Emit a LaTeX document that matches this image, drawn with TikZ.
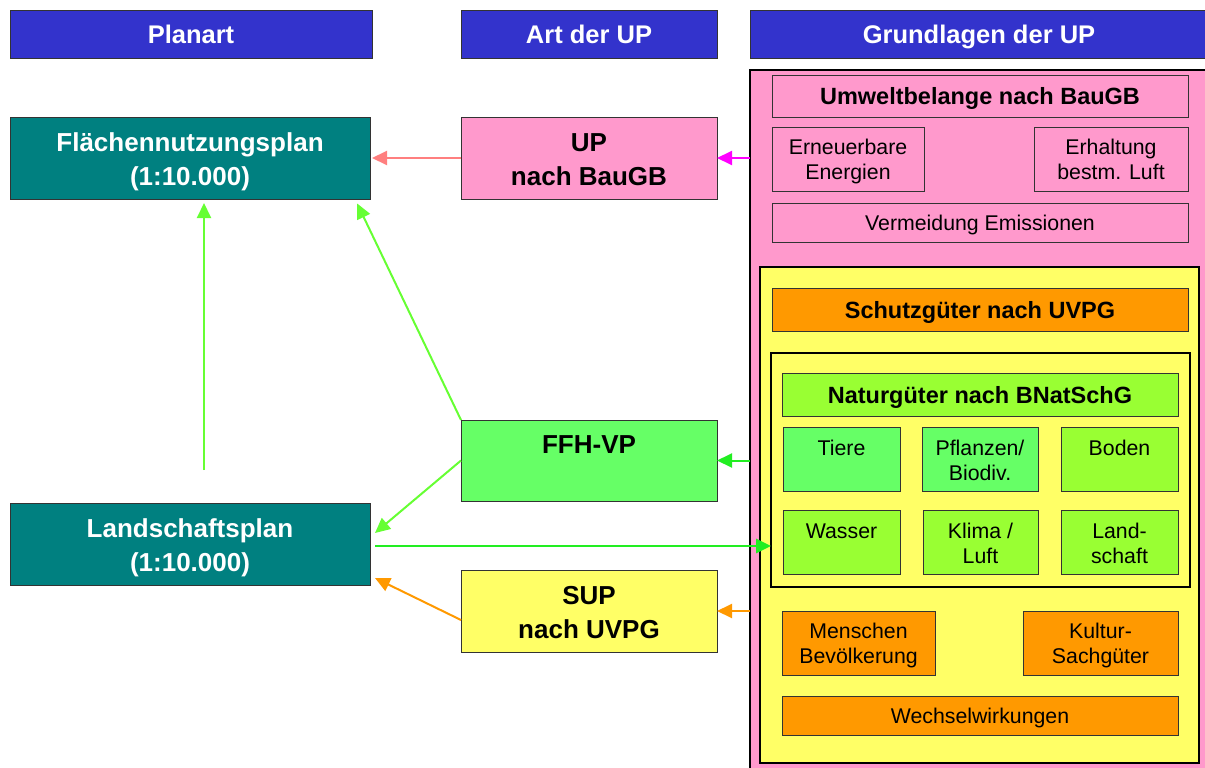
\documentclass[tikz,border=0pt]{standalone}
\usepackage{fontspec}
\setmainfont{Liberation Sans}
\usetikzlibrary{arrows.meta,calc}
\definecolor{hdrblue}{HTML}{3333CC}
\definecolor{tealbox}{HTML}{008080}
\definecolor{pinkbox}{HTML}{FF99CC}
\definecolor{yelbox}{HTML}{FFFF66}
\definecolor{orabox}{HTML}{FF9900}
\definecolor{grnbox}{HTML}{66FF66}
\definecolor{limebox}{HTML}{99FF33}
\definecolor{boxline}{HTML}{333333}
\definecolor{salmonarr}{HTML}{FF7F7F}
\definecolor{magarr}{HTML}{FF00FF}
\definecolor{lgrnarr}{HTML}{66FF33}
\definecolor{bgrnarr}{HTML}{22EE22}
\definecolor{oraarr}{HTML}{FF9900}
% struts: \rule[-depth]{0pt}{height+depth}; height - depth ~ cap height
\newcommand\bst{\rule[-6pt]{0pt}{33pt}}
\newcommand\hst{\rule[-6pt]{0pt}{31pt}}
\newcommand\tst{\rule[-5pt]{0pt}{27.5pt}}
\newcommand\sst{\rule[-4.5pt]{0pt}{24.8pt}}
\begin{document}
\begin{tikzpicture}[x=1pt,y=-1pt,
  sz/.style 2 args={minimum width=#1pt, minimum height=#2pt},
  base/.style={draw=boxline, line width=0.9pt, inner sep=0pt, outer sep=0pt, anchor=north west, align=center},
  hdr/.style={base, fill=hdrblue, text=white, font=\fontsize{25.5}{32}\selectfont\bfseries},
  plan/.style={base, fill=tealbox, text=white, font=\fontsize{26}{34.5}\selectfont\bfseries},
  big/.style={base, font=\fontsize{26}{34.5}\selectfont\bfseries},
  ttl/.style={base, font=\fontsize{23.5}{28}\selectfont\bfseries},
  small/.style={base, font=\fontsize{21.3}{25}\selectfont},
  toplbl/.style={anchor=north, align=center, inner sep=0pt, font=\fontsize{21.3}{25.5}\selectfont},
  bigtop/.style={anchor=north, align=center, inner sep=0pt, font=\fontsize{26}{34.5}\selectfont\bfseries},
  arr/.style={line width=2pt, -{Triangle[length=15pt,width=14pt]}},
]
\useasboundingbox (0,0) rectangle (1205,768);
\clip (0,0) rectangle (1205,768);

% headers
\node[hdr, sz={362}{48}] (h1) at (10,10) {\hst Planart};
\node[hdr, sz={256}{48}] (h2) at (461,10) {\hst Art der UP};
\node[hdr, sz={458}{48}] (h3) at (750,10) {\hst Grundlagen der UP};

% left column
\node[plan, sz={360}{82}] (fnp) at (10,117) {\bst Flächennutzungsplan\\\bst (1:10.000)};
\node[plan, sz={360}{82}] (lp) at (10,503) {\bst Landschaftsplan\\\bst (1:10.000)};

% middle column
\node[big, fill=pinkbox, sz={256}{82}] (up) at (461,117) {\bst UP\\\bst nach BauGB};
\node[base, fill=grnbox, sz={256}{81},
      label={[bigtop, yshift=-6pt]north:\bst FFH-VP}] (ffh) at (461,420) {};
\node[big, fill=yelbox, sz={256}{82}] (sup) at (461,570) {\bst SUP\\\bst nach UVPG};

% right column
\node[base, draw=black, line width=1.5pt, fill=pinkbox, sz={470}{710}] (pink) at (750,70) {};
\node[ttl, fill=pinkbox, sz={416}{42}] (umw) at (772,75) {\tst Umweltbelange nach BauGB};
\node[small, fill=pinkbox, sz={152}{64}] (ern) at (772,127) {\sst Erneuerbare\\\sst Energien};
\node[small, fill=pinkbox, sz={154}{64}] (erh) at (1034,127) {\sst Erhaltung\\\sst bestm. Luft};
\node[small, fill=pinkbox, sz={416}{39}] (verm) at (772,203) {\sst Vermeidung Emissionen};

\node[base, draw=black, line width=2pt, fill=yelbox, sz={439}{496}] (yel) at (760,267) {};
\node[ttl, fill=orabox, sz={416}{43}] (sch) at (772,288) {\tst Schutzgüter nach UVPG};
\node[base, draw=black, line width=2.5pt, fill=yelbox, sz={419}{234}] (grp) at (771,353) {};
\node[ttl, fill=limebox, sz={396}{43}] (nat) at (782,373) {\tst Naturgüter nach BNatSchG};
\node[base, fill=grnbox, sz={117}{64}, label={[toplbl, yshift=-7.7pt]north:\sst Tiere}] (tiere) at (783,427) {};
\node[base, fill=grnbox, sz={116}{64}, label={[toplbl, yshift=-7.7pt]north:\sst Pflanzen/\\\sst Biodiv.}] (pfl) at (922,427) {};
\node[base, fill=limebox, sz={117}{64}, label={[toplbl, yshift=-7.7pt]north:\sst Boden}] (boden) at (1061,427) {};
\node[base, fill=limebox, sz={117}{64}, label={[toplbl, yshift=-7.7pt]north:\sst Wasser}] (wasser) at (783,510) {};
\node[base, fill=limebox, sz={115}{64}, label={[toplbl, yshift=-7.7pt]north:\sst Klima /\\\sst Luft}] (klima) at (923,510) {};
\node[base, fill=limebox, sz={117}{64}, label={[toplbl, yshift=-7.7pt]north:\sst Land-\\\sst schaft}] (land) at (1061,510) {};
\node[small, fill=orabox, sz={153}{64}] (mensch) at (782,611) {\sst Menschen\\\sst Bevölkerung};
\node[small, fill=orabox, sz={155}{64}] (kultur) at (1023,611) {\sst Kultur-\\\sst Sachgüter};
\node[small, fill=orabox, sz={396}{39}] (wechsel) at (782,696) {\sst Wechselwirkungen};

% connectors
\draw[arr, salmonarr, shorten >=2pt] (up.west) -- (fnp.east);
\draw[arr, magarr] (up.east -| pink.west) -- (up.east);
\draw[arr, lgrnarr, shorten <=33pt, shorten >=4pt] ([xshift=14pt]lp.north) -- ([xshift=14pt]fnp.south);
\draw[arr, lgrnarr, shorten >=5pt] (ffh.north west) -- ([xshift=-15pt]fnp.south east);
\draw[arr, lgrnarr] (ffh.west) -- ([xshift=5pt,yshift=11pt]lp.east);
\draw[arr, bgrnarr, line width=2.6pt, shorten <=5pt] ([yshift=-2pt]lp.east) -- ([yshift=-2pt]lp.east -| grp.west);
\draw[arr, bgrnarr] (ffh.east -| pink.west) -- (ffh.east);
\draw[arr, oraarr] ([yshift=-9pt]sup.west) -- ([xshift=5pt,yshift=-34pt]lp.east);
\draw[arr, oraarr] (sup.east -| pink.west) -- (sup.east);
\end{tikzpicture}
\end{document}
